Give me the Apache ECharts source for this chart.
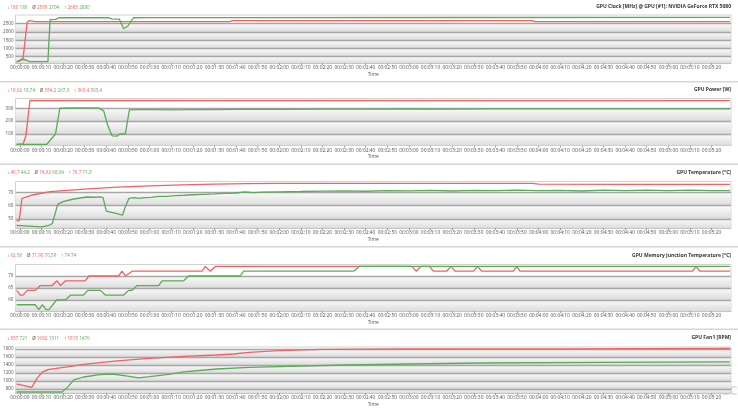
<!DOCTYPE html>
<html><head><meta charset="utf-8">
<script src="https://cdn.jsdelivr.net/npm/echarts@6/dist/echarts.min.js"></script>
<style>html,body{margin:0;padding:0;background:#fff}#c{width:738px;height:412px}</style>
</head><body><div id="c"></div>
<script>
const FONT = '"Open Sans","Liberation Sans",sans-serif';
const RED = '#f36161';
const GREEN = '#5aac55';

// ---- tick labels ----
const timeTicks = [0,10,20,30,40,50,60,70,80,90,100,110,120,130,140,150,160,170,180,190,200,210,220,230,240,250,260,270,280,290,300,310,320];
const clockTicks = [500,1000,1500,2000,2500];
const powerTicks = [100,200,300];
const tempTicks = [50,60,70];
const memTicks = [60,65,70];
const fanTicks = [800,1000,1200,1400,1600,1800];

// ---- titles & stats ----
const titles = ['GPU Clock [MHz] @ GPU [#1]: NVIDIA GeForce RTX 5080','GPU Power [W]','GPU Temperature [°C]','GPU Memory Junction Temperature [°C]','GPU Fan1 [RPM]'];
const statMin = [['180','180'],['18,62','18,74'],['48,7','44,2'],['62','56'],['837','721']];
const statAvg = [['2589','2704'],['354,2','267,3'],['74,62','68,04'],['71,90','70,59'],['1682','1311']];
const statMax = [['2685','2880'],['360,4','303,4'],['76,7','71,9'],['74','74'],['1813','1476']];

// ---- series data (time in s, value) ----
const clockRedT = [-1.5,1.5,3.4,4.5,7,97,98.5,237,238.5,328.5];
const clockRedV = [180,400,2600,2685,2620,2620,2685,2685,2620,2620];
const clockGreenT = [-1.5,1.5,3,4.5,13,14,16.5,18,41,42.5,46,48,50,52.5,60,100,200,328.5];
const clockGreenV = [180,330,300,200,200,2750,2760,2860,2870,2790,2780,2190,2360,2860,2865,2870,2875,2880];

const powerRedT = [-1.5,1.5,2.8,4.7,328.5];
const powerRedV = [18.62,22,85,360.4,360.2];
const powerGreenT = [-1.5,12.5,16.5,18.5,25,30,36.5,38.8,40.6,42.7,45,46.2,48.8,50.7,55,60,70,80,90,100,120,140,160,180,200,220,240,260,280,300,328.5];
const powerGreenV = [18.74,20,100,300,302,303,303.4,280,170,85,83,100,100,287,290,290,287,289,290,291,292,293,294,295,294,296,295,296,295,296,295];

const tempRedT = [-1.5,-0.3,1,6,14,22,30,45,60,75,90,105,120,180,237,240,280,328.5];
const tempRedV = [48.7,48.7,65.5,68,70.5,71.5,72.4,73.9,74.8,75.5,76.1,76.5,76.7,76.7,76.7,76.2,76.0,75.9];
const tempGreenT = [-1.5,10,13,15,16.5,17.5,20,25,31,35,37,38.5,40,44,47.5,49,50.5,53,55,58,61,64,68,72,76,80,85,90,95,100,104,108,112,120,130,140,150,160,170,180,190,200,210,220,230,240,250,260,270,280,290,300,310,320,328.5];
const tempGreenV = [45.2,44.2,45,46.5,55,61,63,65,66.5,66.3,66.6,66,56,54.5,53,60,65.5,66,65.5,66,66.2,67,67,67.5,67.8,68.2,68.5,68.8,69.2,69.5,70.3,69.8,70.2,70.4,70.6,70.9,71.1,70.8,71.3,71.1,71.4,71.0,71.5,71.3,71.6,71.2,71.5,71.0,71.6,71.3,71.7,71.2,71.6,71.3,71.2];

const memRedT = [-1.5,0.2,1.5,3.4,7.2,9.5,14.9,17.2,18.8,21.1,30.3,31.9,45.7,47.3,48.8,51.9,84.3,85.8,88.1,90.4,181.4,183.4,185.5,189.5,191.3,197.5,199.4,201.4,209.9,211.7,213.7,228.3,229.9,231.4,311.3,312.8,314.7,328.5];
const memRedV = [64,62,62,64,64,66,66,68,66,68,68,70,70,72,70,72,72,74,72,74,74,72,74,74,72,72,74,72,72,74,72,72,74,72,72,74,72,72];
const memGreenT = [-1.5,7.2,8.8,10.4,12.2,13.5,17,21.1,23.4,29.5,31.4,37.3,39.6,48,50.3,51.9,54.2,64.2,65.8,75.8,78.1,102,103.5,154.4,157.1,328.5];
const memGreenV = [58,58,56,58,56,56,60,60,62,62,64,64,62,62,64,64,66,66,68,68,70,70,72,72,74,74];

const fanRedT = [-1.5,0,5.5,8,10.5,13.5,22,29.5,45,60,76,91,99,106,120,140,180,250,328.5];
const fanRedV = [925,910,840,1070,1230,1290,1355,1415,1505,1565,1615,1650,1675,1715,1760,1790,1800,1805,1813];
const fanGreenT = [-1.5,19.5,22,25,29.5,37,43,49,55,60,68,76,91,106,150,213,270,328.5];
const fanGreenV = [725,725,840,1030,1100,1160,1175,1130,1080,1110,1160,1230,1300,1340,1400,1450,1465,1476];

// ---- layout (pixels) ----
const panels = [
  {top:15, bottom:63, min:118, max:3027, ticks:clockTicks, red:[clockRedT,clockRedV], green:[clockGreenT,clockGreenV]},
  {top:98.5, bottom:145.5, min:10.5, max:376, ticks:powerTicks, red:[powerRedT,powerRedV], green:[powerGreenT,powerGreenV]},
  {top:181.5, bottom:228, min:43.3, max:78.1, ticks:tempTicks, red:[tempRedT,tempRedV], green:[tempGreenT,tempGreenV]},
  {top:264.5, bottom:311, min:55.4, max:74.8, ticks:memTicks, red:[memRedT,memRedV], green:[memGreenT,memGreenV]},
  {top:347, bottom:393, min:700, max:1850, ticks:fanTicks, red:[fanRedT,fanRedV], green:[fanGreenT,fanGreenV]}
];
const headerY = [8, 91, 173.5, 256.5, 339];
const separatorsY = [81, 163.5, 246, 328.5];

function zip(t, v) { return t.map((x, i) => [x, v[i]]); }
function fmtTime(s) {
  const m = Math.floor(s / 60), ss = s % 60;
  return '00:' + String(m).padStart(2, '0') + ':' + String(ss).padStart(2, '0');
}

const grid = [], xAxis = [], yAxis = [], series = [], graphic = [];
panels.forEach((p, i) => {
  grid.push({left: 15.5, right: 7, top: p.top, height: p.bottom - p.top, show: true,
    backgroundColor: '#ffffff', borderColor: '#d2d2d2', borderWidth: 1});
  xAxis.push({type: 'value', gridIndex: i, min: -2, max: 329,
    axisLine: {show: true, lineStyle: {color: '#c4c4c4', width: 1}},
    axisTick: {show: true, length: 2, customValues: timeTicks, lineStyle: {color: '#9a9a9a'}},
    axisLabel: {customValues: timeTicks, formatter: fmtTime, fontSize: 4.9, color: '#555', margin: 2.5,
      fontFamily: FONT, hideOverlap: false, showMinLabel: true, showMaxLabel: true},
    splitLine: {show: false},
    name: 'Time', nameLocation: 'middle', nameGap: 9,
    nameTextStyle: {fontSize: 4.9, color: '#555', fontFamily: FONT}});
  yAxis.push({type: 'value', gridIndex: i, min: p.min, max: p.max,
    axisLine: {show: false}, axisTick: {show: false},
    axisLabel: {customValues: p.ticks, formatter: v => String(v), fontSize: 4.6, color: '#555', margin: 2, fontFamily: FONT},
    splitLine: {show: false}});
  const bandEdges = [p.min].concat(p.ticks);
  const bands = [];
  for (let k = 0; k < bandEdges.length - 1; k++) {
    bands.push([{yAxis: bandEdges[k]}, {yAxis: bandEdges[k + 1]}]);
  }
  series.push({type: 'line', xAxisIndex: i, yAxisIndex: i, data: zip(p.red[0], p.red[1]),
    showSymbol: false, lineStyle: {color: RED, width: 1.3}, itemStyle: {color: RED}, z: 3,
    markArea: {silent: true, z: 1, itemStyle: {color: new echarts.graphic.LinearGradient(0, 0, 0, 1,
      [{offset: 0, color: '#fbfbfb'}, {offset: 1, color: '#dcdcdc'}])}, data: bands},
    markLine: {silent: true, z: 2, symbol: ['none', 'none'], label: {show: false},
      lineStyle: {color: '#a6a6a6', width: 1.4, type: 'solid'}, data: p.ticks.map(v => ({yAxis: v}))}
  });
  series.push({type: 'line', xAxisIndex: i, yAxisIndex: i, data: zip(p.green[0], p.green[1]),
    showSymbol: false, lineStyle: {color: GREEN, width: 1.3}, itemStyle: {color: GREEN}, z: 3});

  const hs = 4.6;
  graphic.push({type: 'text', left: 7, top: headerY[i] - 3, silent: true, style: {
    text: `{s|↓} {r|${statMin[i][0]}} {g|${statMin[i][1]}}    {s|Ø} {r|${statAvg[i][0]}} {g|${statAvg[i][1]}}    {s|↑} {r|${statMax[i][0]}} {g|${statMax[i][1]}}`,
    rich: {s: {fill: '#555', fontSize: hs, fontFamily: FONT}, r: {fill: RED, fontSize: hs, fontFamily: FONT}, g: {fill: GREEN, fontSize: hs, fontFamily: FONT}},
    fontSize: hs, fontFamily: FONT}});
  graphic.push({type: 'text', right: 7, top: headerY[i] - 3.5, silent: true, style: {
    text: titles[i], fill: '#333', fontSize: 5, fontWeight: 'bold', fontFamily: FONT}});
});
separatorsY.forEach(y => graphic.push({type: 'rect', left: 0, top: y, silent: true,
  shape: {width: 738, height: 1.5}, style: {fill: '#d6d6d6'}}));
graphic.push({type: 'text', left: 630, top: 385, silent: true, style: {
  text: 'NOTEBOOKCHECK', fill: 'rgba(160,160,160,0.35)', fontSize: 13, fontWeight: 'bold', fontFamily: FONT}});

const chart = echarts.init(document.getElementById('c'), null, {renderer: 'canvas'});
chart.setOption({animation: false, backgroundColor: '#fff', grid, xAxis, yAxis, series, graphic});
</script></body></html>
